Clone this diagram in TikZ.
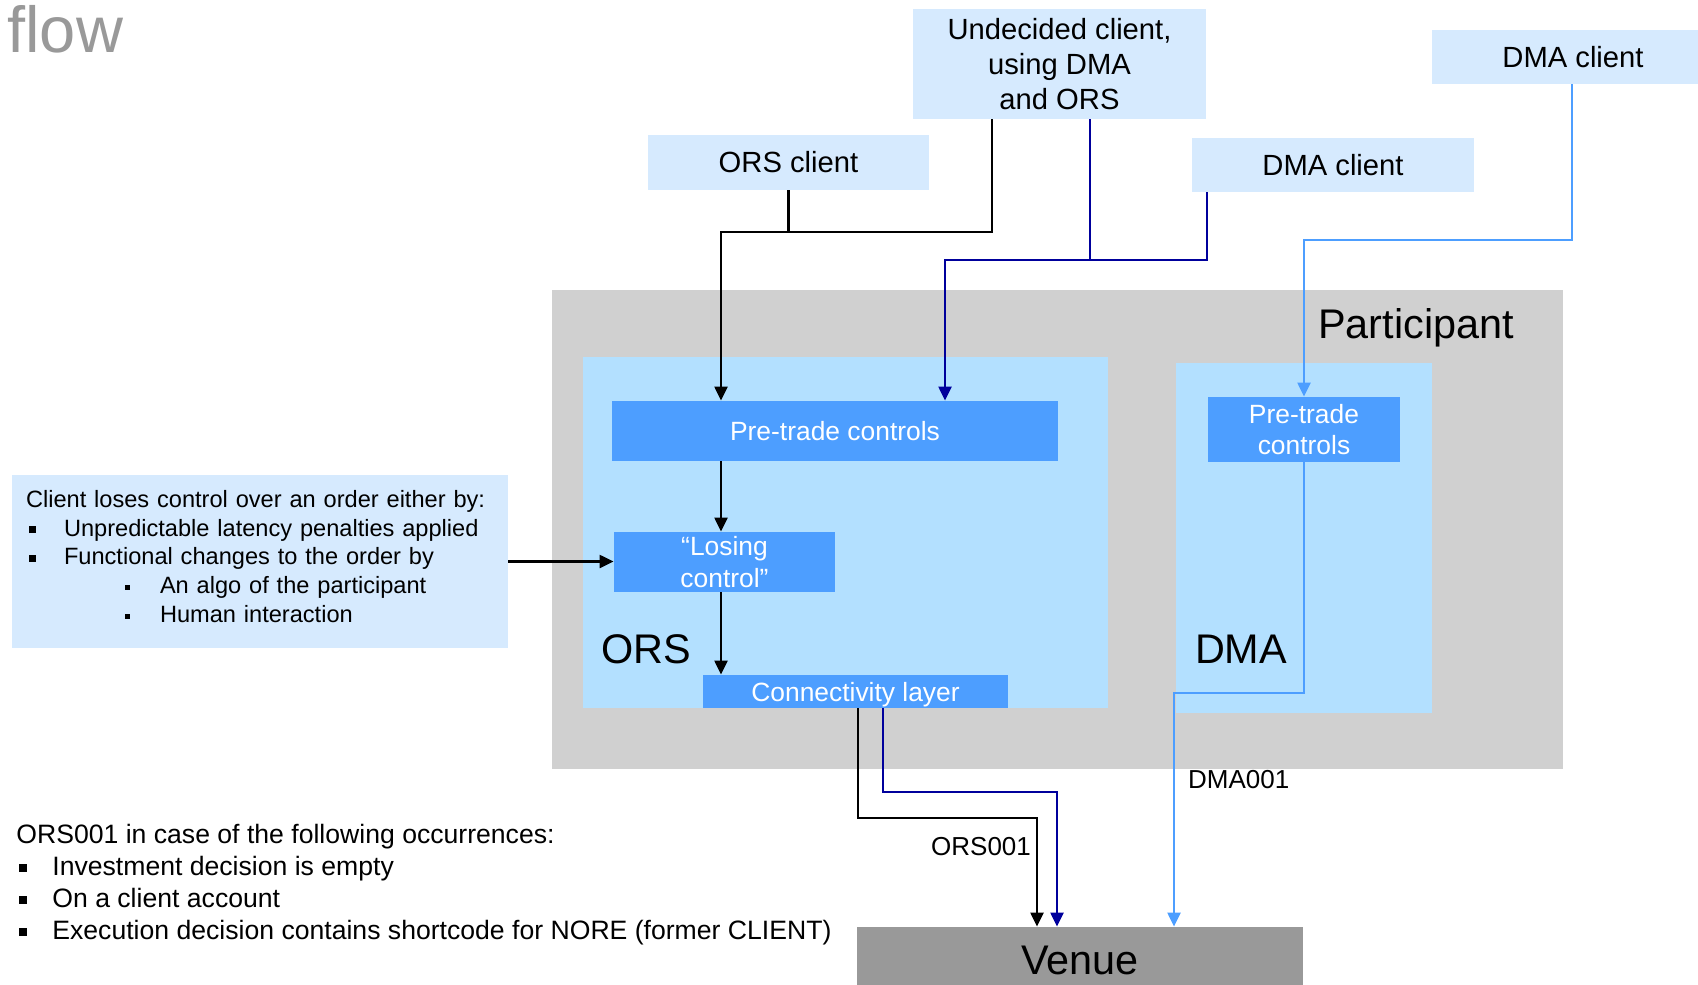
\documentclass[tikz,border=0pt]{standalone}
\usepackage{fontspec}
\setmainfont{Liberation Sans}
\usetikzlibrary{positioning,arrows.meta,calc}
\definecolor{paleBlue}{HTML}{D6EAFE}
\definecolor{skyBlue}{HTML}{B3E0FF}
\definecolor{midBlue}{HTML}{4D9EFF}
\definecolor{navyLine}{HTML}{00009C}
\definecolor{partGray}{HTML}{D0D0D0}
\definecolor{venueGray}{HTML}{999999}
\definecolor{flowGray}{HTML}{999999}
\newcommand{\bulsq}{\rule[1.5pt]{3.5pt}{3.5pt}}
\newcommand{\subsq}{\rule[2pt]{2.5pt}{2.5pt}}
\newcommand{\casesq}{\rule[2pt]{4pt}{4pt}}
\tikzset{
  zone/.style={rectangle, inner sep=0pt, fill=partGray},
  area/.style={rectangle, inner sep=0pt, fill=skyBlue},
  client/.style={rectangle, fill=paleBlue, inner sep=0pt, align=center,
                 font=\fontsize{14.6}{17.5}\selectfont},
  control/.style={rectangle, fill=midBlue, text=white, inner sep=0pt, align=center,
                  font=\fontsize{13.2}{15.7}\selectfont},
  biglabel/.style={inner sep=0pt, anchor=base, font=\fontsize{20.7}{24}\selectfont},
  codelabel/.style={inner sep=0pt, font=\fontsize{13}{15}\selectfont},
  orsflow/.style={-{Triangle[length=7pt,width=6.5pt]}, line width=1.1pt, draw=black},
  dualflow/.style={-{Triangle[length=7pt,width=6.5pt]}, line width=1.1pt, draw=navyLine},
  dmaflow/.style={-{Triangle[length=7pt,width=6.5pt]}, line width=1.1pt, draw=midBlue}
}

\begin{document}
\begin{tikzpicture}[x=0.5pt, y=-0.5pt]
\useasboundingbox (0,0) rectangle (1698,985);

\node[anchor=base west, inner sep=0pt, text=flowGray, font=\fontsize{32.5}{36}\selectfont] (title) at (7,52) {flow};

\node[zone, minimum width=505.5pt, minimum height=239.5pt] (participant) at (1057.5,529.5) {};
\node[area, minimum width=262.5pt, minimum height=175.5pt] (orsarea) at (845.5,532.5) {};
\node[area, minimum width=128pt, minimum height=175pt] (dmaarea) at (1304,538) {};
\node[biglabel] (partlabel) at (1416,338) {Participant};
\node[biglabel] (orslabel) at (646,663) {ORS};
\node[biglabel] (dmalabel) at (1241,663) {DMA};

\node[control, minimum width=223pt, minimum height=30pt] (orsptc) at (835,431) {Pre-trade controls};
\node[control, minimum width=110.5pt, minimum height=30pt] (losing) at (724.5,562) {“Losing\\control”};
\node[control, minimum width=152.5pt, minimum height=16.5pt, text depth=0pt] (conn) at (855.5,691.5) {Connectivity layer};
\node[control, minimum width=96pt, minimum height=32.5pt] (dmaptc) at (1304,429.5) {Pre-trade\\controls};

\node[client, minimum width=140.5pt, minimum height=27.5pt] (orscl) at (788.5,162.5) {ORS client};
\node[client, minimum width=146.5pt, minimum height=55pt] (undecided) at (1059.5,64) {Undecided client,\\using DMA\\and ORS};
\node[client, minimum width=141pt, minimum height=27pt] (dmacl) at (1333,165) {DMA client};
\node[client, minimum width=141pt, minimum height=27pt] (dmaclr) at (1573,57) {DMA client};

\node[rectangle, fill=paleBlue, inner sep=0pt, minimum width=248pt, minimum height=86.5pt] (note) at (260,561.5) {};
\node[inner xsep=7pt, inner ysep=0pt, text width=234pt, align=left, yshift=2.5pt,
      font=\fontsize{11.8}{14.4}\selectfont] (notetext) at (note.center)
  {Client loses control over an order either by:\\
   \hspace*{1.5pt}\makebox[17.5pt][l]{\bulsq}Unpredictable latency penalties applied\\
   \hspace*{1.5pt}\makebox[17.5pt][l]{\bulsq}Functional changes to the order by\\
   \hspace*{49.5pt}\makebox[17.5pt][l]{\subsq}An algo of the participant\\
   \hspace*{49.5pt}\makebox[17.5pt][l]{\subsq}Human interaction};

\node[anchor=west, inner sep=0pt, align=left, font=\fontsize{13.3}{16}\selectfont] (cases) at (16,885)
  {ORS001 in case of the following occurrences:\\
   \hspace*{1.5pt}\makebox[16.5pt][l]{\casesq}Investment decision is empty\\
   \hspace*{1.5pt}\makebox[16.5pt][l]{\casesq}On a client account\\
   \hspace*{1.5pt}\makebox[16.5pt][l]{\casesq}Execution decision contains shortcode for NORE (former CLIENT)};

\node[rectangle, fill=venueGray, inner sep=0pt, minimum width=223pt, minimum height=33pt,
      font=\fontsize{20.7}{24}\selectfont] (venue) at (1080,960) {Venue};

\coordinate (oj1) at (992,232);
\coordinate (oj2) at (721,232);
\draw[orsflow] (undecided.south -| oj1) -- (oj1) -- (oj2) -- (orsptc.north -| oj2);
\draw[orsflow,-] (orscl.south) -- (orscl.south |- oj1);
\draw[orsflow] (orsptc.south -| oj2) -- (losing.north -| oj2);
\draw[orsflow] (losing.south -| oj2) -- (conn.north -| oj2);
\draw[orsflow] (note.east) -- (note.east -| losing.west);
\coordinate (ov1) at (858,818);
\coordinate (ov2) at (1037,818);
\draw[orsflow] (conn.south -| ov1) -- (ov1) -- (ov2) -- node[codelabel, left, pos=0.26, xshift=-2.5pt]{ORS001} (venue.north -| ov2);

\coordinate (dj1) at (1090,260);
\coordinate (dj2) at (945,260);
\coordinate (dj3) at (1207,260);
\draw[dualflow] (undecided.south -| dj1) -- (dj1) -- (dj2) -- (orsptc.north -| dj2);
\draw[dualflow,-] (dmacl.south -| dj3) -- (dj3) -- (dj1);
\coordinate (dv1) at (883,792);
\coordinate (dv2) at (1057,792);
\draw[dualflow] (conn.south -| dv1) -- (dv1) -- (dv2) -- (venue.north -| dv2);

\coordinate (mj1) at (1572,240);
\coordinate (mj2) at (1304,240);
\draw[dmaflow] (dmaclr.south -| mj1) -- (mj1) -- (mj2) -- (dmaptc.north);
\coordinate (mv1) at (1304,693);
\coordinate (mv2) at (1174,693);
\draw[dmaflow] (dmaptc.south) -- (mv1) -- (mv2) -- node[codelabel, right, pos=0.37, xshift=6.5pt]{DMA001} (venue.north -| mv2);
\end{tikzpicture}
\end{document}
